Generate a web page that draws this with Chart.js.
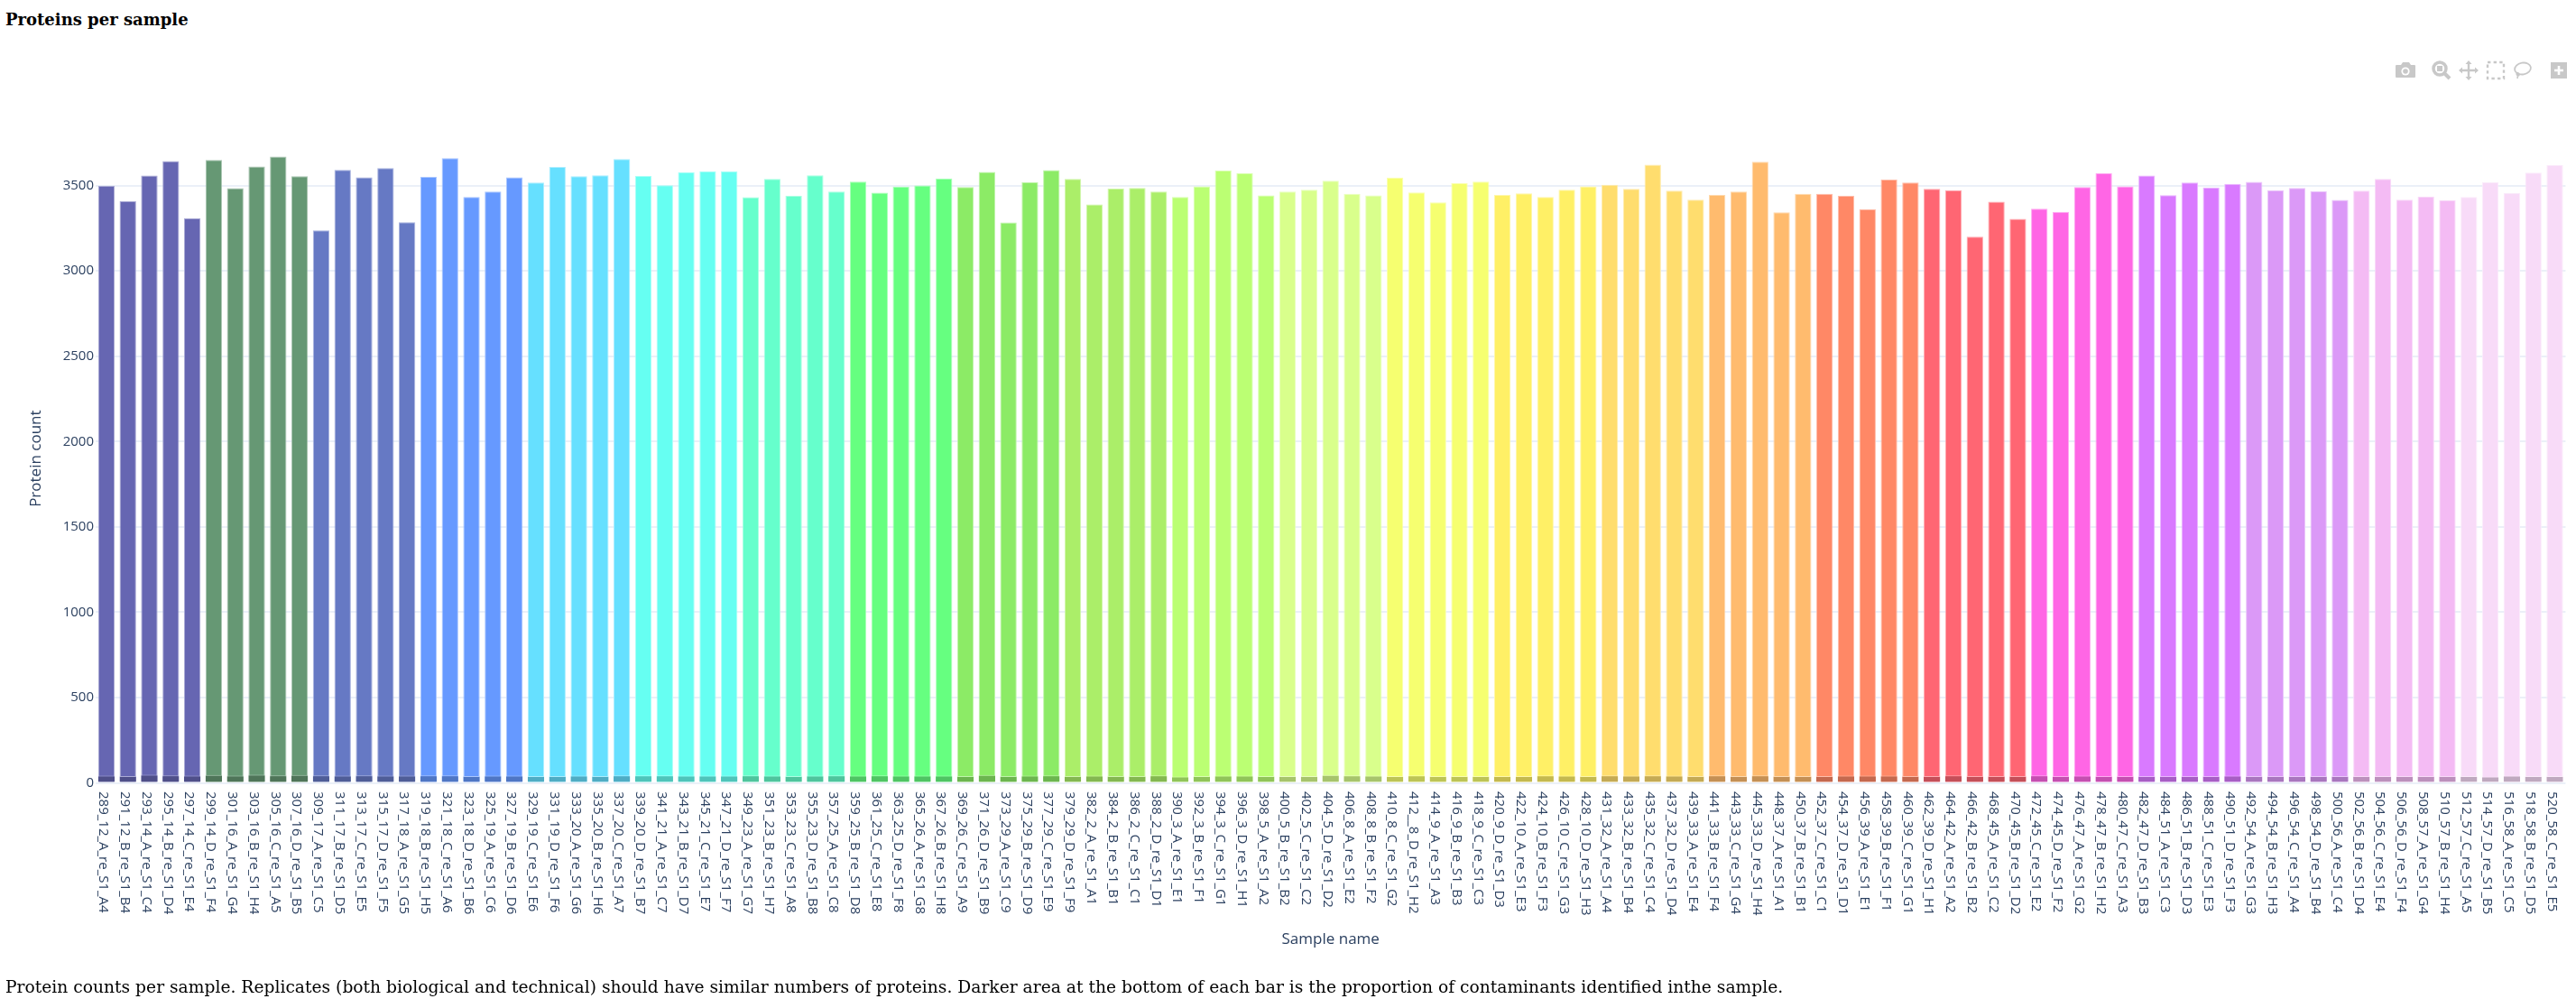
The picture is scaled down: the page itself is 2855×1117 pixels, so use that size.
<!DOCTYPE html>
<html>
<head>
<meta charset="utf-8">
<title>Proteins per sample</title>
<script src="https://cdn.jsdelivr.net/npm/chart.js@4"></script>
<style>
  html, body { margin: 0; padding: 0; background: #fff; }
  body { position: relative; width: 2855px; height: 1117px; overflow: hidden; }
  #proteinChart { position: absolute; left: 0; top: 0; }
  h3, p { position: absolute; margin: 0; color: #000; white-space: nowrap; font-family: "DejaVu Serif", serif; }
  h3 { left: 6px; top: 11px; font-size: 18px; font-weight: bold; }
  p { left: 6px; top: 1083px; font-size: 18.7px; }
  #modebar { position: absolute; left: 2640px; top: 60px; }
</style>
</head>
<body>
<h3>Proteins per sample</h3>
<canvas id="proteinChart" width="2855" height="1117"></canvas>
<p>Protein counts per sample. Replicates (both biological and technical) should have similar numbers of proteins. Darker area at the bottom of each bar is the proportion of contaminants identified inthe sample.</p>

<!-- plot toolbar -->
<svg id="modebar" width="210" height="36" viewBox="2640 60 210 36" fill="#c8c8c8" stroke="none">
  <path d="M2656 72h5l2-3h7l2 3h4a1 1 0 0 1 1 1v12a1 1 0 0 1-1 1h-20a1 1 0 0 1-1-1v-12a1 1 0 0 1 1-1z"/>
  <circle cx="2666" cy="79" r="4.6" fill="#fff"/><circle cx="2666" cy="79" r="2.8"/>
  <circle cx="2704" cy="76" r="7" fill="none" stroke="#c8c8c8" stroke-width="3.5"/>
  <rect x="2701" y="73" width="6" height="6"/>
  <path d="M2709 81l6 6" stroke="#c8c8c8" stroke-width="4"/>
  <path d="M2736 69v18M2727 78h18" stroke="#c8c8c8" stroke-width="2.4"/>
  <path d="M2736 67l3.5 4h-7zM2736 89l3.5-4h-7zM2725 78l4-3.5v7zM2747 78l-4-3.5v7z"/>
  <rect x="2757" y="69" width="18" height="18" fill="none" stroke="#c8c8c8" stroke-width="2.4" stroke-dasharray="3.4 3.2"/>
  <ellipse cx="2796" cy="76" rx="9" ry="6.4" transform="rotate(-10 2796 76)" fill="none" stroke="#c8c8c8" stroke-width="1.8"/>
  <path d="M2790 80c-2 2 0 4 1 4s2-2 0-3l-1 6" fill="none" stroke="#c8c8c8" stroke-width="1.6"/>
  <rect x="2827" y="69" width="18" height="18"/>
  <path d="M2836 73v10M2831 78h10" stroke="#fff" stroke-width="2.6"/>
</svg>

<script>
const sampleNames = [
  '289_12_A_re_S1_A4', '291_12_B_re_S1_B4', '293_14_A_re_S1_C4', '295_14_B_re_S1_D4', '297_14_C_re_S1_E4',
  '299_14_D_re_S1_F4', '301_16_A_re_S1_G4', '303_16_B_re_S1_H4', '305_16_C_re_S1_A5', '307_16_D_re_S1_B5',
  '309_17_A_re_S1_C5', '311_17_B_re_S1_D5', '313_17_C_re_S1_E5', '315_17_D_re_S1_F5', '317_18_A_re_S1_G5',
  '319_18_B_re_S1_H5', '321_18_C_re_S1_A6', '323_18_D_re_S1_B6', '325_19_A_re_S1_C6', '327_19_B_re_S1_D6',
  '329_19_C_re_S1_E6', '331_19_D_re_S1_F6', '333_20_A_re_S1_G6', '335_20_B_re_S1_H6', '337_20_C_re_S1_A7',
  '339_20_D_re_S1_B7', '341_21_A_re_S1_C7', '343_21_B_re_S1_D7', '345_21_C_re_S1_E7', '347_21_D_re_S1_F7',
  '349_23_A_re_S1_G7', '351_23_B_re_S1_H7', '353_23_C_re_S1_A8', '355_23_D_re_S1_B8', '357_25_A_re_S1_C8',
  '359_25_B_re_S1_D8', '361_25_C_re_S1_E8', '363_25_D_re_S1_F8', '365_26_A_re_S1_G8', '367_26_B_re_S1_H8',
  '369_26_C_re_S1_A9', '371_26_D_re_S1_B9', '373_29_A_re_S1_C9', '375_29_B_re_S1_D9', '377_29_C_re_S1_E9',
  '379_29_D_re_S1_F9', '382_2_A_re_S1_A1', '384_2_B_re_S1_B1', '386_2_C_re_S1_C1', '388_2_D_re_S1_D1',
  '390_3_A_re_S1_E1', '392_3_B_re_S1_F1', '394_3_C_re_S1_G1', '396_3_D_re_S1_H1', '398_5_A_re_S1_A2',
  '400_5_B_re_S1_B2', '402_5_C_re_S1_C2', '404_5_D_re_S1_D2', '406_8_A_re_S1_E2', '408_8_B_re_S1_F2',
  '410_8_C_re_S1_G2', '412__8_D_re_S1_H2', '414_9_A_re_S1_A3', '416_9_B_re_S1_B3', '418_9_C_re_S1_C3',
  '420_9_D_re_S1_D3', '422_10_A_re_S1_E3', '424_10_B_re_S1_F3', '426_10_C_re_S1_G3', '428_10_D_re_S1_H3',
  '431_32_A_re_S1_A4', '433_32_B_re_S1_B4', '435_32_C_re_S1_C4', '437_32_D_re_S1_D4', '439_33_A_re_S1_E4',
  '441_33_B_re_S1_F4', '443_33_C_re_S1_G4', '445_33_D_re_S1_H4', '448_37_A_re_S1_A1', '450_37_B_re_S1_B1',
  '452_37_C_re_S1_C1', '454_37_D_re_S1_D1', '456_39_A_re_S1_E1', '458_39_B_re_S1_F1', '460_39_C_re_S1_G1',
  '462_39_D_re_S1_H1', '464_42_A_re_S1_A2', '466_42_B_re_S1_B2', '468_45_A_re_S1_C2', '470_45_B_re_S1_D2',
  '472_45_C_re_S1_E2', '474_45_D_re_S1_F2', '476_47_A_re_S1_G2', '478_47_B_re_S1_H2', '480_47_C_re_S1_A3',
  '482_47_D_re_S1_B3', '484_51_A_re_S1_C3', '486_51_B_re_S1_D3', '488_51_C_re_S1_E3', '490_51_D_re_S1_F3',
  '492_54_A_re_S1_G3', '494_54_B_re_S1_H3', '496_54_C_re_S1_A4', '498_54_D_re_S1_B4', '500_56_A_re_S1_C4',
  '502_56_B_re_S1_D4', '504_56_C_re_S1_E4', '506_56_D_re_S1_F4', '508_57_A_re_S1_G4', '510_57_B_re_S1_H4',
  '512_57_C_re_S1_A5', '514_57_D_re_S1_B5', '516_58_A_re_S1_C5', '518_58_B_re_S1_D5', '520_58_C_re_S1_E5'
];

const proteinCounts = [
  3498, 3408, 3558, 3643, 3308, 3650, 3484, 3611, 3669, 3555,
  3237, 3592, 3548, 3602, 3285, 3551, 3660, 3433, 3465, 3548,
  3518, 3608, 3555, 3560, 3655, 3556, 3502, 3578, 3583, 3583,
  3431, 3539, 3440, 3560, 3465, 3523, 3458, 3493, 3500, 3541,
  3491, 3579, 3283, 3519, 3590, 3539, 3389, 3482, 3486, 3465,
  3433, 3495, 3588, 3572, 3442, 3465, 3475, 3528, 3451, 3442,
  3546, 3459, 3401, 3514, 3523, 3445, 3454, 3433, 3475, 3495,
  3504, 3481, 3622, 3470, 3417, 3445, 3465, 3639, 3343, 3451,
  3451, 3440, 3362, 3534, 3518, 3481, 3472, 3200, 3405, 3304,
  3364, 3345, 3491, 3571, 3495, 3558, 3444, 3518, 3488, 3509,
  3521, 3472, 3486, 3466, 3415, 3470, 3539, 3417, 3435, 3414,
  3433, 3519, 3456, 3576, 3620
];

const contaminantCounts = [
  42, 40, 47, 44, 42, 46, 42, 47, 44, 46,
  44, 42, 44, 42, 42, 44, 44, 39, 42, 42,
  40, 40, 42, 40, 44, 44, 44, 42, 42, 42,
  44, 42, 40, 42, 44, 42, 44, 42, 42, 42,
  40, 46, 39, 42, 44, 40, 42, 40, 40, 44,
  37, 40, 42, 42, 40, 40, 40, 46, 44, 42,
  40, 44, 40, 40, 40, 40, 40, 44, 42, 40,
  44, 42, 44, 42, 39, 44, 40, 44, 39, 40,
  40, 42, 42, 42, 39, 40, 44, 40, 40, 40,
  44, 40, 42, 39, 39, 39, 40, 39, 39, 42,
  39, 39, 40, 40, 39, 39, 40, 39, 39, 40,
  39, 37, 42, 39, 39
];

const yTickValues = [0, 500, 1000, 1500, 2000, 2500, 3000, 3500];

// one colour per biological replicate set, five samples each
const barsPerColor = 5;
const groupColors = [
  '#6666b2', '#669874', '#6679c4', '#6699ff', '#66e0ff', '#66fff2', '#66ffcc', '#66ff80',
  '#8ceb66', '#abee69', '#bbff73', '#d9ff8c', '#f6ff70', '#fff066', '#ffdd6e', '#ffbb6e',
  '#ff8866', '#ff6673', '#ff66e5', '#d97aff', '#db99f7', '#f4bbf4', '#f8dbf8'
];

function mix(hex, target, amount) {
  const c = [1, 3, 5].map(i => parseInt(hex.slice(i, i + 2), 16));
  return 'rgb(' + c.map(v => Math.round(v + (target - v) * amount)).join(',') + ')';
}
const colorAt = i => groupColors[Math.floor(i / barsPerColor)];

const axisColor = '#2a3f5f';
const gridColor = '#ebf0f8';
const axisFont = '"Open Sans", sans-serif';

// sample names read downwards from the axis, which Chart.js ticks can't do
const sampleLabels = {
  id: 'sampleLabels',
  afterDraw(chart) {
    const { ctx, scales } = chart;
    ctx.save();
    ctx.fillStyle = axisColor;
    ctx.font = '15px ' + axisFont;
    ctx.textAlign = 'left';
    ctx.textBaseline = 'middle';
    sampleNames.forEach((name, i) => {
      ctx.save();
      ctx.translate(scales.x.getPixelForValue(i) - 3.5, 877);
      ctx.rotate(Math.PI / 2);
      ctx.fillText(name, 0, 0);
      ctx.restore();
    });
    ctx.restore();
  }
};

new Chart(document.getElementById('proteinChart').getContext('2d'), {
  type: 'bar',
  plugins: [sampleLabels],
  data: {
    labels: sampleNames,
    datasets: [
      {
        label: 'Contaminants',
        data: contaminantCounts,
        grouped: false,
        order: 1,
        backgroundColor: sampleNames.map((_, i) => mix(colorAt(i), 0, 0.23)),
        borderColor: sampleNames.map((_, i) => mix(colorAt(i), 255, 0.45)),
        borderWidth: { top: 1 },
        borderSkipped: 'bottom'
      },
      {
        label: 'Protein count',
        data: proteinCounts,
        grouped: false,
        order: 2,
        backgroundColor: sampleNames.map((_, i) => colorAt(i)),
        borderColor: sampleNames.map((_, i) => mix(colorAt(i), 255, 0.45)),
        borderWidth: 1,
        borderSkipped: 'bottom'
      }
    ]
  },
  options: {
    responsive: false,
    animation: false,
    barPercentage: 0.77,
    categoryPercentage: 1,
    layout: { padding: { left: 0, right: 11.6, top: 148.8, bottom: 0 } },
    plugins: {
      legend: { display: false },
      tooltip: { enabled: true }
    },
    scales: {
      x: {
        afterFit(scale) { scale.height = 249.5; },
        grid: { display: false },
        border: { display: false },
        ticks: { display: false, autoSkip: false },
        title: {
          display: true,
          text: 'Sample name',
          color: axisColor,
          font: { family: axisFont, size: 17 },
          padding: { top: 0, bottom: 66 }
        }
      },
      y: {
        min: 0,
        max: 3800,
        afterFit(scale) { scale.width = 106; },
        afterBuildTicks(scale) { scale.ticks = yTickValues.map(value => ({ value })); },
        grid: { color: gridColor, lineWidth: 2, drawTicks: false },
        border: { display: false },
        ticks: {
          padding: 2,
          color: axisColor,
          font: { family: axisFont, size: 15 },
          callback: value => String(value)
        },
        title: {
          display: true,
          text: 'Protein count',
          color: axisColor,
          font: { family: axisFont, size: 17 },
          padding: { top: 30, bottom: 0 }
        }
      }
    }
  }
});
</script>
</body>
</html>
